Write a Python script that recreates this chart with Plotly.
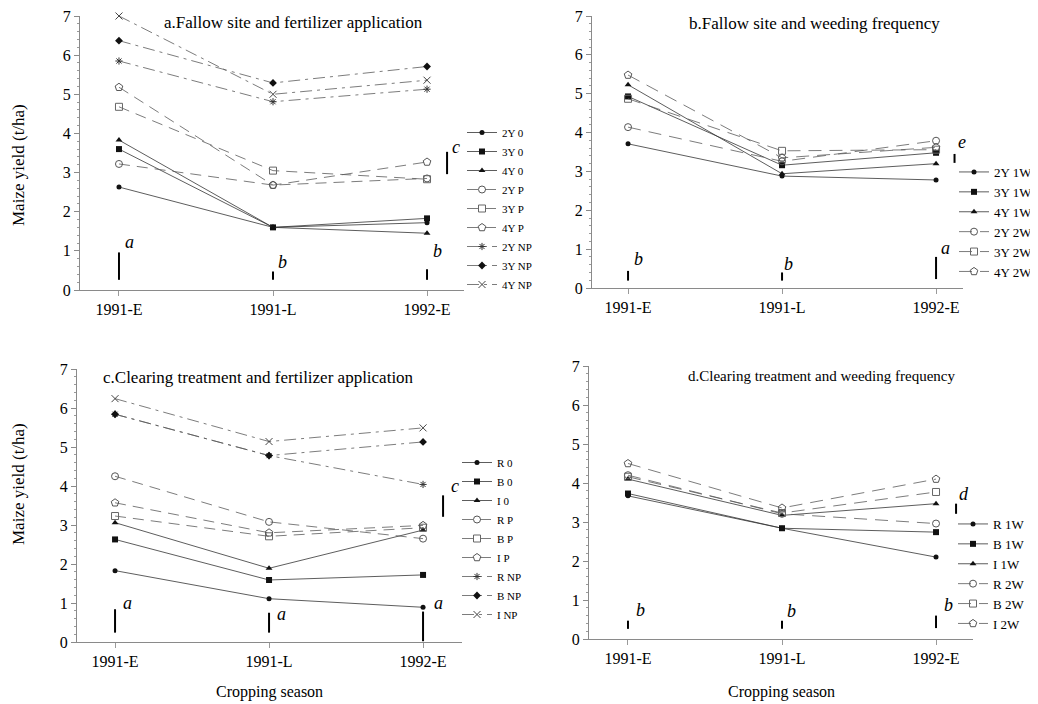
import plotly.graph_objects as go

seasons = ["1991-E", "1991-L", "1992-E"]

# ---------------- Panel a: fallow site x fertilizer ----------------
a_labels = ["2Y 0", "3Y 0", "4Y 0", "2Y P", "3Y P", "4Y P", "2Y NP", "3Y NP", "4Y NP"]
a_2y_0 = [2.63, 1.60, 1.72]
a_3y_0 = [3.60, 1.60, 1.83]
a_4y_0 = [3.83, 1.60, 1.45]
a_2y_p = [3.22, 2.68, 2.85]
a_3y_p = [4.68, 3.05, 2.83]
a_4y_p = [5.18, 2.68, 3.27]
a_2y_np = [5.85, 4.81, 5.13]
a_3y_np = [6.37, 5.29, 5.71]
a_4y_np = [7.00, 5.00, 5.36]
a_lsd_low = [0.26, 0.26, 0.26]
a_lsd_high = [0.96, 0.47, 0.53]
a_lsd_letters = ["a", "b", "b"]
a_lsd_letter_y = [1.22, 0.72, 1.00]
a_int_lsd = [2.96, 3.53]
a_int_letter = "c"
a_int_letter_y = 3.66

# ---------------- Panel b: fallow site x weeding ----------------
b_labels = ["2Y 1W", "3Y 1W", "4Y 1W", "2Y 2W", "3Y 2W", "4Y 2W"]
b_2y_1w = [3.71, 2.88, 2.78]
b_3y_1w = [4.93, 3.16, 3.48]
b_4y_1w = [5.23, 2.94, 3.20]
b_2y_2w = [4.14, 3.26, 3.79]
b_3y_2w = [4.87, 3.53, 3.56]
b_4y_2w = [5.48, 3.35, 3.62]
b_lsd_low = [0.19, 0.19, 0.23]
b_lsd_high = [0.44, 0.40, 0.80]
b_lsd_letters = ["b", "b", "a"]
b_lsd_letter_y = [0.74, 0.61, 1.02]
b_int_lsd = [3.22, 3.45]
b_int_letter = "e"
b_int_letter_y = 3.75

# ---------------- Panel c: clearing x fertilizer ----------------
c_labels = ["R 0", "B 0", "I 0", "R P", "B P", "I P", "R NP", "B NP", "I NP"]
c_r_0 = [1.83, 1.11, 0.89]
c_b_0 = [2.63, 1.59, 1.72]
c_i_0 = [3.06, 1.89, 2.87]
c_r_p = [4.25, 3.08, 2.65]
c_b_p = [3.23, 2.71, 2.93]
c_i_p = [3.57, 2.80, 2.99]
c_r_np = [5.84, 4.78, 4.04]
c_b_np = [5.84, 4.78, 5.13]
c_i_np = [6.24, 5.14, 5.49]
c_lsd_low = [0.24, 0.24, 0.02]
c_lsd_high = [0.84, 0.75, 0.78]
c_lsd_letters = ["a", "a", "a"]
c_lsd_letter_y = [0.99, 0.72, 1.00]
c_int_lsd = [3.21, 3.76]
c_int_letter = "c"
c_int_letter_y = 3.99

# ---------------- Panel d: clearing x weeding ----------------
d_labels = ["R 1W", "B 1W", "I 1W", "R 2W", "B 2W", "I 2W"]
d_r_1w = [3.67, 2.84, 2.10]
d_b_1w = [3.73, 2.84, 2.74]
d_i_1w = [4.10, 3.17, 3.47]
d_r_2w = [4.20, 3.21, 2.96]
d_b_2w = [4.16, 3.23, 3.77]
d_i_2w = [4.50, 3.36, 4.10]
d_lsd_low = [0.26, 0.26, 0.28]
d_lsd_high = [0.47, 0.47, 0.60]
d_lsd_letters = ["b", "b", "b"]
d_lsd_letter_y = [0.75, 0.73, 0.88]
d_int_lsd = [3.21, 3.47]
d_int_letter = "d"
d_int_letter_y = 3.73

FONT = "Liberation Serif"

# marker / line styles by treatment level
SOLID = dict(color="#333333", width=0.8, dash="solid")
PDASH = dict(color="#5a5a5a", width=0.8, dash="11px,7px")
NPDASH = dict(color="#5a5a5a", width=0.8, dash="12px,5px,3px,5px")
WDASH = dict(color="#5a5a5a", width=0.8, dash="13px,8px")

M_DOT = dict(symbol="circle", size=5, color="#111111")
M_SQ = dict(symbol="square", size=6, color="#111111")
M_TRI = dict(symbol="triangle-up", size=6, color="#111111")
M_OC = dict(symbol="circle-open", size=7, color="#555555", line=dict(width=1, color="#555555"))
M_OS = dict(symbol="square-open", size=7, color="#666666", line=dict(width=1, color="#666666"))
M_OT = dict(symbol="pentagon-open", size=8, color="#555555", line=dict(width=1, color="#555555"))
M_AST = dict(symbol="asterisk-open", size=6, color="#333333", line=dict(width=1, color="#333333"))
M_DIA = dict(symbol="diamond", size=6, color="#111111")
M_X = dict(symbol="x-thin-open", size=7, color="#444444", line=dict(width=1, color="#444444"))

styles9 = [(M_DOT, SOLID), (M_SQ, SOLID), (M_TRI, SOLID),
           (M_OC, PDASH), (M_OS, PDASH), (M_OT, PDASH),
           (M_AST, NPDASH), (M_DIA, NPDASH), (M_X, NPDASH)]
styles6 = [(M_DOT, SOLID), (M_SQ, SOLID), (M_TRI, SOLID),
           (M_OC, WDASH), (M_OS, WDASH), (M_OT, WDASH)]

xidx = list(range(len(seasons)))

panels = [
    dict(ax="", leg="legend", labels=a_labels,
         series=[a_2y_0, a_3y_0, a_4y_0, a_2y_p, a_3y_p, a_4y_p, a_2y_np, a_3y_np, a_4y_np],
         styles=styles9, low=a_lsd_low, high=a_lsd_high, letters=a_lsd_letters,
         letter_y=a_lsd_letter_y, letter_dx=[0.07, 0.06, 0.07],
         ilsd=a_int_lsd, iletter=a_int_letter, iletter_y=a_int_letter_y, ix=2.13, ilx=2.19),
    dict(ax="2", leg="legend2", labels=b_labels,
         series=[b_2y_1w, b_3y_1w, b_4y_1w, b_2y_2w, b_3y_2w, b_4y_2w],
         styles=styles6, low=b_lsd_low, high=b_lsd_high, letters=b_lsd_letters,
         letter_y=b_lsd_letter_y, letter_dx=[0.065, 0.045, 0.06],
         ilsd=b_int_lsd, iletter=b_int_letter, iletter_y=b_int_letter_y, ix=2.12, ilx=2.17),
    dict(ax="3", leg="legend3", labels=c_labels,
         series=[c_r_0, c_b_0, c_i_0, c_r_p, c_b_p, c_i_p, c_r_np, c_b_np, c_i_np],
         styles=styles9, low=c_lsd_low, high=c_lsd_high, letters=c_lsd_letters,
         letter_y=c_lsd_letter_y, letter_dx=[0.08, 0.08, 0.10],
         ilsd=c_int_lsd, iletter=c_int_letter, iletter_y=c_int_letter_y, ix=2.13, ilx=2.21),
    dict(ax="4", leg="legend4", labels=d_labels,
         series=[d_r_1w, d_b_1w, d_i_1w, d_r_2w, d_b_2w, d_i_2w],
         styles=styles6, low=d_lsd_low, high=d_lsd_high, letters=d_lsd_letters,
         letter_y=d_lsd_letter_y, letter_dx=[0.08, 0.06, 0.08],
         ilsd=d_int_lsd, iletter=d_int_letter, iletter_y=d_int_letter_y, ix=2.13, ilx=2.18),
]

fig = go.Figure()
annotations = []

for p in panels:
    xa, ya = "x" + p["ax"], "y" + p["ax"]
    for name, vals, (mk, ln) in zip(p["labels"], p["series"], p["styles"]):
        fig.add_trace(go.Scatter(x=xidx, y=vals, name=name, mode="lines+markers",
                                 marker=mk, line=ln, xaxis=xa, yaxis=ya,
                                 legend=p["leg"], cliponaxis=False))
    # LSD bars at each season
    bx, by = [], []
    for i in xidx:
        bx += [i, i, None]
        by += [p["low"][i], p["high"][i], None]
    bx += [p["ix"], p["ix"], None]
    by += [p["ilsd"][0], p["ilsd"][1], None]
    fig.add_trace(go.Scatter(x=bx, y=by, mode="lines", line=dict(color="black", width=2),
                             showlegend=False, hoverinfo="skip", xaxis=xa, yaxis=ya))
    for i in xidx:
        annotations.append(dict(x=i + p["letter_dx"][i], y=p["letter_y"][i], xref=xa, yref=ya,
                                text="<i>%s</i>" % p["letters"][i], showarrow=False,
                                font=dict(family=FONT, size=18, color="black")))
    annotations.append(dict(x=p["ilx"], y=p["iletter_y"], xref=xa, yref=ya,
                            text="<i>%s</i>" % p["iletter"], showarrow=False,
                            font=dict(family=FONT, size=18, color="black")))

W, H = 1038, 704
OFF = 8  # page body margin of the exported html


def sx(x):
    return (x - OFF) / W


def sy(y):
    return 1 - (y - OFF) / H


def xd(l, r):
    return [sx(l), sx(r)]


def yd(y0, y7):
    return [sy(y0), sy(y7)]


axis_domains = {
    "": (xd(80, 464), yd(290, 16), [-0.253, 2.240]),
    "2": (xd(592, 963), yd(288, 16), [-0.234, 2.175]),
    "3": (xd(77, 462), yd(642, 369), [-0.247, 2.253]),
    "4": (xd(589, 973), yd(639, 366), [-0.253, 2.240]),
}

layout_axes = {}
for key, (xdom, ydom, xr) in axis_domains.items():
    layout_axes["xaxis" + key] = dict(
        domain=xdom, range=xr, tickvals=xidx, ticktext=seasons, anchor="y" + key,
        showline=True, linecolor="#8a8a8a", linewidth=1, ticks="outside", ticklen=5,
        tickcolor="#9a9a9a", showgrid=False, zeroline=False, ticklabeloverflow="allow",
        tickfont=dict(family=FONT, size=16, color="black"), fixedrange=True)
    layout_axes["yaxis" + key] = dict(
        domain=ydom, range=[0, 7], dtick=1, anchor="x" + key,
        showline=True, linecolor="#8a8a8a", linewidth=1, ticks="outside", ticklen=5,
        tickcolor="#8a8a8a", showgrid=False, zeroline=False, ticklabeloverflow="allow",
        minor=dict(dtick=0.2, ticks="outside", ticklen=2, tickcolor="#9a9a9a"),
        tickfont=dict(family=FONT, size=16, color="black"), fixedrange=True)

# panel titles (screen px positions)
titles = [
    ("a.Fallow site and fertilizer application", 293, 22, 17),
    ("b.Fallow site and weeding frequency", 814, 23, 17),
    ("c.Clearing treatment and fertilizer application", 258, 377, 17),
    ("d.Clearing treatment and weeding frequency", 821, 376, 15),
]
for t, px, py, fs in titles:
    annotations.append(dict(x=sx(px), y=sy(py), xref="paper", yref="paper", text=t,
                            showarrow=False, xanchor="center", yanchor="middle",
                            font=dict(family=FONT, size=fs, color="black")))
for py in [165, 484]:
    annotations.append(dict(x=sx(18), y=sy(py), xref="paper", yref="paper",
                            text="Maize yield (t/ha)", textangle=-90, showarrow=False,
                            xanchor="center", yanchor="middle",
                            font=dict(family=FONT, size=17, color="black")))
for px in [269, 781]:
    annotations.append(dict(x=sx(px), y=sy(692), xref="paper", yref="paper",
                            text="Cropping season", showarrow=False,
                            xanchor="center", yanchor="middle",
                            font=dict(family=FONT, size=16, color="black")))


def leg(x, y, fs):
    return dict(x=sx(x), y=sy(y), font=dict(family=FONT, size=fs, color="black"),
                bgcolor="rgba(0,0,0,0)", borderwidth=0, itemwidth=30, tracegroupgap=0,
                xanchor="left", yanchor="top", traceorder="normal")


fig.update_layout(
    width=W, height=H, margin=dict(l=0, r=0, t=0, b=0, autoexpand=False),
    paper_bgcolor="white", plot_bgcolor="white", showlegend=True,
    font=dict(family=FONT, color="black"),
    annotations=annotations,
    legend=leg(462, 118, 11),
    legend2=leg(954, 157, 13),
    legend3=leg(457, 448, 11),
    legend4=leg(953, 509, 13),
    **layout_axes,
)

fig.write_html("out.html")
